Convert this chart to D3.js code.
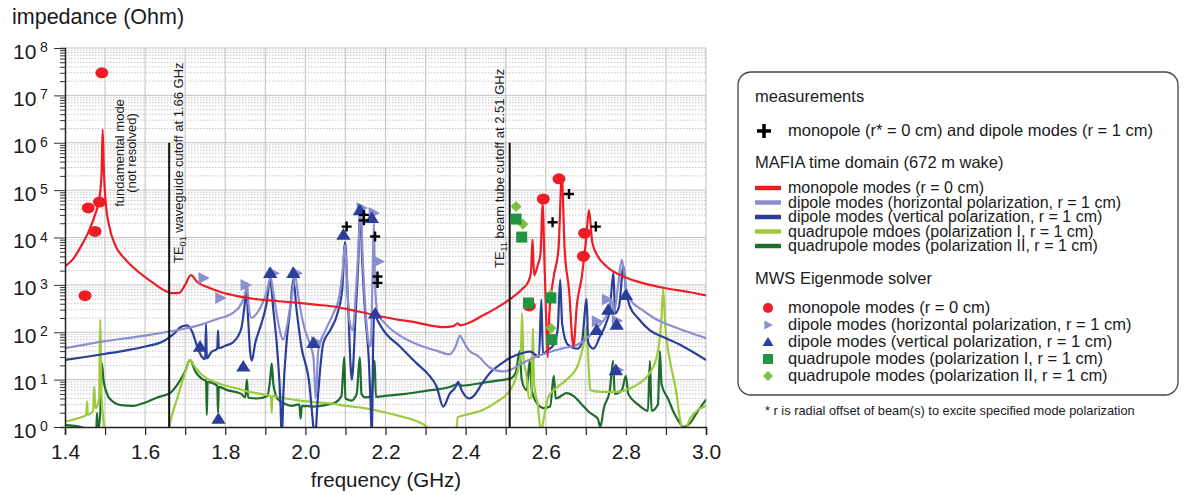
<!DOCTYPE html>
<html>
<head>
<meta charset="utf-8">
<script src="https://cdnjs.cloudflare.com/ajax/libs/d3/7.8.5/d3.min.js"></script>
<style>
  body { margin: 0; background: #fff; }
  text { font-family: 'Liberation Sans', Arial, sans-serif; fill: #1a1a1a; }
</style>
</head>
<body>
<script>
// ---- data: [frequency GHz, impedance Ohm] ----
var monopoleMafia = [[1.400,2450],[1.420,3500],[1.440,6500],[1.460,14000],[1.475,30000],[1.486,70000],[1.491,200000],[1.494,1.9e6],[1.497,250000],[1.502,50000],[1.510,18000],[1.525,7000],[1.550,3500],[1.587,1780],[1.620,1100],[1.650,750],[1.665,670],[1.685,680],[1.700,1000],[1.714,1600],[1.730,1150],[1.755,900],[1.790,700],[1.830,580],[1.870,510],[1.910,470],[1.950,440],[1.990,410],[2.030,380],[2.070,350],[2.110,300],[2.150,255],[2.190,215],[2.230,185],[2.270,165],[2.310,140],[2.345,128],[2.370,135],[2.380,155],[2.386,140],[2.410,160],[2.440,220],[2.470,300],[2.511,500],[2.540,800],[2.555,1100],[2.563,1800],[2.567,9000],[2.571,1600],[2.580,2600],[2.587,4500],[2.592,53000],[2.597,2500],[2.601,200],[2.605,30],[2.609,250],[2.620,1500],[2.632,6000],[2.640,195000],[2.647,6000],[2.658,800],[2.669,50],[2.678,400],[2.690,1500],[2.700,8000],[2.708,38000],[2.716,8000],[2.730,4000],[2.752,2450],[2.794,1500],[2.850,1050],[2.900,850],[2.960,700],[3.000,600]]

var dipoleHorMafia = [[1.40,46],[1.45,55],[1.50,65],[1.55,74],[1.60,85],[1.65,100],[1.70,120],[1.74,145],[1.78,190],[1.82,260],[1.84,400],[1.850,700],[1.854,1100],[1.858,400],[1.865,200],[1.880,260],[1.895,450],[1.905,800],[1.913,1500],[1.920,700],[1.930,200],[1.945,70],[1.955,150],[1.965,500],[1.975,1500],[1.982,600],[1.995,150],[2.010,60],[2.020,30],[2.026,4],[2.032,40],[2.050,110],[2.070,250],[2.085,600],[2.093,2000],[2.099,7000],[2.104,1200],[2.110,180],[2.118,110],[2.125,500],[2.132,5000],[2.138,45000],[2.143,4000],[2.150,300],[2.158,60],[2.163,50],[2.168,2000],[2.171,20000],[2.174,1000],[2.180,260],[2.200,150],[2.236,85],[2.280,55],[2.330,40],[2.360,34],[2.375,50],[2.386,85],[2.392,70],[2.410,40],[2.430,32],[2.460,18],[2.490,15],[2.511,16],[2.540,22],[2.570,29],[2.600,36],[2.640,45],[2.680,55],[2.710,85],[2.730,130],[2.750,210],[2.765,450],[2.770,250],[2.780,900],[2.790,3400],[2.800,900],[2.810,500],[2.840,300],[2.870,200],[2.910,140],[2.950,105],[3.000,75]]

var dipoleVerMafia = [[1.40,26],[1.45,30],[1.50,35],[1.55,41],[1.60,50],[1.65,68],[1.67,90],[1.690,130],[1.705,140],[1.718,100],[1.730,50],[1.742,30],[1.750,27],[1.752,150],[1.754,28],[1.765,38],[1.780,45],[1.782,110],[1.784,46],[1.800,52],[1.820,62],[1.840,120],[1.848,350],[1.853,750],[1.857,200],[1.862,40],[1.866,25],[1.875,60],[1.890,150],[1.903,400],[1.912,1300],[1.920,300],[1.930,40],[1.938,3],[1.941,0.5],[1.945,5],[1.953,60],[1.962,300],[1.970,1300],[1.978,300],[1.990,50],[2.010,8],[2.020,1],[2.024,0.5],[2.030,3],[2.045,60],[2.062,110],[2.080,250],[2.092,800],[2.099,8000],[2.106,500],[2.116,10],[2.125,200],[2.132,3000],[2.137,40000],[2.142,3000],[2.150,200],[2.158,30],[2.163,3],[2.166,0.5],[2.169,50],[2.172,250],[2.180,180],[2.195,110],[2.236,50],[2.278,22],[2.310,12],[2.328,7],[2.344,2.7],[2.360,5],[2.377,7.5],[2.381,9],[2.390,6],[2.410,4],[2.420,4.5],[2.440,8],[2.461,14],[2.490,22],[2.511,29],[2.540,36],[2.561,39],[2.575,33],[2.583,30],[2.589,490],[2.593,35],[2.605,42],[2.620,55],[2.630,120],[2.636,1300],[2.641,150],[2.655,55],[2.680,45],[2.690,60],[2.702,500],[2.706,60],[2.719,45],[2.735,80],[2.750,150],[2.760,300],[2.769,1800],[2.773,250],[2.783,350],[2.794,2450],[2.800,800],[2.810,350],[2.830,200],[2.860,110],[2.900,75],[2.943,50],[3.000,26]]

var quadIMafia = [[1.400,1.3],[1.440,1.6],[1.453,1.8],[1.455,3.5],[1.457,1.8],[1.470,2.2],[1.473,7],[1.476,2.5],[1.485,4],[1.488,185],[1.491,5],[1.497,1],[1.500,0.3],[1.650,0.3],[1.660,1],[1.680,4],[1.700,14],[1.712,26],[1.725,18],[1.740,13],[1.760,10],[1.780,8.5],[1.800,7.5],[1.830,6.5],[1.860,5.5],[1.900,4.8],[1.914,4.5],[1.916,2],[1.918,4.5],[1.950,4],[1.987,3.6],[2.030,3.3],[2.070,3.1],[2.100,2.8],[2.136,2.6],[2.180,2.2],[2.236,1.7],[2.280,1.3],[2.303,1.0],[2.310,0.5],[2.375,0.5],[2.380,1.6],[2.400,1.8],[2.444,2.3],[2.480,3.5],[2.511,6],[2.530,15],[2.538,40],[2.541,250],[2.544,30],[2.552,12],[2.558,4],[2.564,4],[2.568,120],[2.571,8],[2.580,3],[2.588,0.8],[2.595,1.5],[2.605,4],[2.611,5],[2.630,7],[2.652,10],[2.680,20],[2.695,60],[2.702,130],[2.706,30],[2.711,6],[2.740,5.5],[2.777,5.5],[2.810,6.5],[2.835,8.5],[2.860,14],[2.877,30],[2.888,150],[2.893,800],[2.898,150],[2.910,25],[2.925,6],[2.935,1.5],[2.945,0.7],[2.960,1.5],[3.000,2.8]]

var quadIIMafia = [[1.400,1.1],[1.440,1.0],[1.470,0.8],[1.478,0.8],[1.480,2],[1.482,0.8],[1.488,2],[1.492,22],[1.496,10],[1.503,5.5],[1.515,3.7],[1.540,2.9],[1.570,2.8],[1.600,3.3],[1.630,4.2],[1.662,5.2],[1.685,9],[1.700,15],[1.712,26],[1.725,15],[1.745,10],[1.752,9.5],[1.754,1.8],[1.756,9],[1.780,7.5],[1.782,2],[1.784,7],[1.805,6],[1.840,5],[1.850,4.2],[1.854,10],[1.857,4.2],[1.880,4],[1.905,4.5],[1.912,10],[1.916,22],[1.920,8],[1.930,4],[1.945,3.2],[1.965,2.8],[1.985,3],[1.988,1.5],[1.991,2.8],[2.020,2.7],[2.050,2.9],[2.075,3.3],[2.090,4.5],[2.097,30],[2.100,4],[2.115,3.6],[2.128,5],[2.136,30],[2.140,5],[2.150,4.2],[2.165,4.5],[2.173,25],[2.176,4.3],[2.195,4.5],[2.250,5],[2.300,5.8],[2.361,7],[2.380,8],[2.390,7.5],[2.440,8.5],[2.480,9.5],[2.511,10.5],[2.525,14],[2.535,40],[2.540,10],[2.552,6],[2.560,25],[2.565,6],[2.580,3],[2.595,2.5],[2.611,2.7],[2.620,12],[2.625,4],[2.652,5.2],[2.670,4.5],[2.690,3],[2.710,2],[2.730,1.5],[2.736,1],[2.745,2.5],[2.760,6],[2.768,25],[2.772,5],[2.790,6],[2.800,12],[2.806,5],[2.830,3],[2.855,2.2],[2.860,25],[2.864,2.2],[2.880,3],[2.885,40],[2.889,8],[2.905,4],[2.920,2],[2.935,1.2],[2.943,1],[2.960,1.2],[2.980,2.2],[3.000,3.8]]

var measured = [[2.103,17000],[2.146,30000],[2.146,23000],[2.174,10500],[2.180,1500],[2.180,1100],[2.617,21000],[2.658,83000],[2.725,17000]]
var monopoleMws = [[1.492,3e7],[1.458,42000],[1.486,56000],[1.475,13400],[1.450,590],[2.559,360],[2.594,65000],[2.633,173000],[2.697,12300],[2.694,4000]]
var dipoleHorMws = [[1.745,1400],[1.787,530],[1.850,1000],[1.920,1750],[1.978,1750],[2.026,62],[2.140,42000],[2.170,33000],[2.182,3100],[2.727,170],[2.752,490],[2.777,175],[2.780,16]]
var dipoleVerMws = [[1.737,50],[1.845,19],[1.783,1.5],[1.912,1800],[1.970,1800],[2.020,60],[2.095,11500],[2.136,38000],[2.166,26000],[2.174,250],[2.727,113],[2.756,300],[2.777,145],[2.800,620],[2.775,16]]
var quadIMws = [[2.526,24500],[2.540,10200],[2.557,415],[2.613,530],[2.615,70]]
var quadIIMws = [[2.526,45000],[2.543,19000],[2.613,620],[2.613,122]]

var cutoffs = [[1.66, 'TE', '01', ' waveguide cutoff at 1.66 GHz'], [2.51, 'TE', '11', ' beam tube cutoff at 2.51 GHz']]
var xTickValues = [1.4,1.5,1.6,1.7,1.8,1.9,2.0,2.1,2.2,2.3,2.4,2.5,2.6,2.7,2.8,2.9,3.0]
var xTickLabels = ['1.4','1.6','1.8','2.0','2.2','2.4','2.6','2.8','3.0']
var yExponents = [0,1,2,3,4,5,6,7,8]

var mafiaLabels = ['monopole modes (r = 0 cm)', 'dipole modes (horizontal polarization, r = 1 cm)', 'dipole modes (vertical polarization, r = 1 cm)', 'quadrupole mdoes (polarization I, r = 1 cm)', 'quadrupole modes (polarization II, r = 1 cm)']
var mwsLabels = ['monopole modes (r = 0 cm)', 'dipole modes (horizontal polarization, r = 1 cm)', 'dipole modes (vertical polarization, r = 1 cm)', 'quadrupole modes (polarization I, r = 1 cm)', 'quadrupole modes (polarization II, r = 1 cm)']

// colours
var cRed = '#ee1c24', cPurple = '#8b8fcf', cBlue = '#2b3f9a', cLime = '#9dcb3b', cDark = '#1e6d2d', cSquare = '#1f9542', cDiamond = '#7cc142'

var svg = d3.select('body').append('svg')
	.attr('width', 1184)
	.attr('height', 495)

// plot box (pixels) -- 'top' is taken on window, so prefix these
var pLeft = 65, pRight = 706, pTop = 48, pBottom = 427
var x = d3.scaleLinear().domain([1.4, 3.0]).range([pLeft, pRight])
var y = d3.scaleLog().domain([1, 1e8]).range([pBottom, pTop])

// grid
var minorVals = []
yExponents.slice(0, 8).forEach(function (e) {
	for (var m = 2; m <= 9; m++) minorVals.push(m * Math.pow(10, e))
})
var majorVals = yExponents.map(function (e) { return Math.pow(10, e) })

svg.append('g').selectAll('line')
	.data(minorVals).enter().append('line')
	.attr('x1', pLeft).attr('x2', pRight)
	.attr('y1', function (d) { return y(d) }).attr('y2', function (d) { return y(d) })
	.attr('stroke', '#c4c4c4').attr('stroke-width', 1).attr('stroke-dasharray', '1.5,1.5')

svg.append('g').selectAll('line')
	.data(xTickValues.slice(1)).enter().append('line')
	.attr('x1', function (d) { return x(d) }).attr('x2', function (d) { return x(d) })
	.attr('y1', pTop).attr('y2', pBottom)
	.attr('stroke', '#c9c9c9').attr('stroke-width', 1.2)

svg.append('g').selectAll('line')
	.data(majorVals.slice(1)).enter().append('line')
	.attr('x1', pLeft).attr('x2', pRight)
	.attr('y1', function (d) { return y(d) }).attr('y2', function (d) { return y(d) })
	.attr('stroke', '#c4c4c4').attr('stroke-width', 1)

// curves
svg.append('clipPath').attr('id', 'plot')
	.append('rect').attr('x', pLeft).attr('y', pTop).attr('width', pRight - pLeft).attr('height', pBottom - pTop)

var line = d3.line()
	.curve(d3.curveMonotoneX)
	.x(function (d) { return x(d[0]) })
	.y(function (d) { return y(d[1]) })

var curves = [[quadIIMafia, cDark], [quadIMafia, cLime], [dipoleVerMafia, cBlue], [dipoleHorMafia, cPurple], [monopoleMafia, cRed]]
var curveG = svg.append('g').attr('clip-path', 'url(#plot)')
curves.forEach(function (c) {
	curveG.append('path')
		.datum(c[0])
		.attr('d', line)
		.attr('fill', 'none')
		.attr('stroke', c[1])
		.attr('stroke-width', 2.2)
		.attr('stroke-linejoin', 'round')
})

// cutoff lines + labels
cutoffs.forEach(function (c) {
	svg.append('line')
		.attr('x1', x(c[0])).attr('x2', x(c[0]))
		.attr('y1', y(1e6)).attr('y2', pBottom)
		.attr('stroke', '#111').attr('stroke-width', 2)
})
var cutText = [[183, 263], [504, 268]]
cutoffs.forEach(function (c, i) {
	var t = svg.append('text')
		.attr('transform', 'translate(' + cutText[i][0] + ',' + cutText[i][1] + ') rotate(-90)')
		.attr('font-size', 13)
	t.append('tspan').text(c[1])
	t.append('tspan').attr('font-size', 9).attr('dy', 3).text(c[2])
	t.append('tspan').attr('dy', -3).text(c[3])
})
var fund = ['fundamental mode', '(not resolved)']
fund.forEach(function (s, i) {
	svg.append('text')
		.attr('transform', 'translate(' + (124 + i * 12) + ',153) rotate(-90)')
		.attr('text-anchor', 'middle')
		.attr('font-size', 13)
		.text(s)
})

// markers
function upTri(s) { return 'M0,' + (-s) + 'L' + (s * 1.1) + ',' + (s * 0.8) + 'L' + (-s * 1.1) + ',' + (s * 0.8) + 'Z' }
function rightTri(s) { return 'M' + (-s * 0.8) + ',' + (-s) + 'L' + (s * 1.1) + ',0L' + (-s * 0.8) + ',' + s + 'Z' }
function diamond(s) { return 'M0,' + (-s) + 'L' + s + ',0L0,' + s + 'L' + (-s) + ',0Z' }
function plus(s) { return 'M' + (-s) + ',0H' + s + 'M0,' + (-s) + 'V' + s }

var mk = svg.append('g')
mk.selectAll('.mono').data(monopoleMws).enter().append('ellipse')
	.attr('cx', function (d) { return x(d[0]) }).attr('cy', function (d) { return y(d[1]) })
	.attr('rx', 6.5).attr('ry', 5.5).attr('fill', cRed)
mk.selectAll('.dh').data(dipoleHorMws).enter().append('path')
	.attr('transform', function (d) { return 'translate(' + x(d[0]) + ',' + y(d[1]) + ')' })
	.attr('d', rightTri(6)).attr('fill', cPurple)
mk.selectAll('.dv').data(dipoleVerMws).enter().append('path')
	.attr('transform', function (d) { return 'translate(' + x(d[0]) + ',' + y(d[1]) + ')' })
	.attr('d', upTri(6.5)).attr('fill', cBlue)
mk.selectAll('.q2').data(quadIIMws).enter().append('path')
	.attr('transform', function (d) { return 'translate(' + x(d[0]) + ',' + y(d[1]) + ')' })
	.attr('d', diamond(5.5)).attr('fill', cDiamond)
mk.selectAll('.q1').data(quadIMws).enter().append('rect')
	.attr('x', function (d) { return x(d[0]) - 5.5 }).attr('y', function (d) { return y(d[1]) - 5.5 })
	.attr('width', 11).attr('height', 11).attr('fill', cSquare)
mk.selectAll('.meas').data(measured).enter().append('path')
	.attr('transform', function (d) { return 'translate(' + x(d[0]) + ',' + y(d[1]) + ')' })
	.attr('d', plus(5)).attr('stroke', '#000').attr('stroke-width', 2.4)

// axes
var xAxis = d3.axisBottom(x)
	.tickValues(xTickValues)
	.tickSize(8)
	.tickPadding(9)
	.tickFormat(function (d, i) { return i % 2 === 0 ? xTickLabels[i / 2] : '' })
var gx = svg.append('g').attr('transform', 'translate(0,' + pBottom + ')').call(xAxis)
gx.select('.domain').attr('stroke', '#222').attr('stroke-width', 1.5)
gx.selectAll('line').attr('stroke', '#222').attr('stroke-width', 1.2)
gx.selectAll('text').attr('font-size', 21).attr('fill', '#1a1a1a').style('font-family', "'Liberation Sans', Arial, sans-serif")

var yAxis = d3.axisLeft(y)
	.tickValues(minorVals.concat(majorVals))
	.tickSize(5)
	.tickFormat('')
var gy = svg.append('g').attr('transform', 'translate(' + pLeft + ',0)').call(yAxis)
gy.select('.domain').attr('stroke', '#222').attr('stroke-width', 1.5)
gy.selectAll('.tick line').attr('stroke', '#333').attr('stroke-width', 1)
	.attr('x2', function (d) { return majorVals.indexOf(d) >= 0 ? -11 : -5 })

yExponents.forEach(function (e) {
	var yy = y(Math.pow(10, e))
	svg.append('text').attr('x', 13).attr('y', yy + 10.5).attr('font-size', 21).text('10')
	svg.append('text').attr('x', 40).attr('y', yy + 4).attr('font-size', 14).text(e)
})

svg.append('text').attr('x', 12).attr('y', 24).attr('font-size', 21.5).text('impedance (Ohm)')
svg.append('text').attr('x', 386).attr('y', 487).attr('font-size', 20.5).attr('text-anchor', 'middle').text('frequency (GHz)')

// legend
var lg = svg.append('g')
lg.append('rect').attr('x', 738).attr('y', 72).attr('width', 440).attr('height', 323).attr('rx', 13)
	.attr('fill', '#fff').attr('stroke', '#444').attr('stroke-width', 1.3)
var lfs = 16.5
lg.append('text').attr('x', 755).attr('y', 102).attr('font-size', lfs).text('measurements')
lg.append('path').attr('transform', 'translate(764,131)').attr('d', plus(7)).attr('stroke', '#000').attr('stroke-width', 3.5)
lg.append('text').attr('x', 788).attr('y', 136).attr('font-size', lfs).text('monopole (r* = 0 cm) and dipole modes (r = 1 cm)')
lg.append('text').attr('x', 755).attr('y', 168).attr('font-size', lfs).text('MAFIA time domain (672 m wake)')

// these rows sit tightly packed in the original
var mafiaColors = [cRed, cPurple, cBlue, cLime, cDark]
mafiaLabels.forEach(function (s, i) {
	var cy = 188 + i * 14.5
	lg.append('line').attr('x1', 755).attr('x2', 781).attr('y1', cy).attr('y2', cy)
		.attr('stroke', mafiaColors[i]).attr('stroke-width', 4.5)
	lg.append('text').attr('x', 788).attr('y', cy + 5).attr('font-size', 16).text(s)
})

lg.append('text').attr('x', 755).attr('y', 284).attr('font-size', lfs).text('MWS Eigenmode solver')
mwsLabels.forEach(function (s, i) {
	var cy = 308 + i * 17
	var g = lg.append('g').attr('transform', 'translate(768,' + cy + ')')
	if (i === 0) g.append('circle').attr('r', 5).attr('fill', cRed)
	if (i === 1) g.append('path').attr('d', rightTri(4.5)).attr('fill', cPurple)
	if (i === 2) g.append('path').attr('d', upTri(5)).attr('fill', cBlue)
	if (i === 3) g.append('rect').attr('x', -5).attr('y', -5).attr('width', 10).attr('height', 10).attr('fill', cSquare)
	if (i === 4) g.append('path').attr('d', diamond(5)).attr('fill', cDiamond)
	lg.append('text').attr('x', 788).attr('y', cy + 5).attr('font-size', lfs).text(s)
})

svg.append('text').attr('x', 765).attr('y', 415).attr('font-size', 12.8)
	.text('* r is radial offset of beam(s) to excite specified mode polarization')
</script>
</body>
</html>
